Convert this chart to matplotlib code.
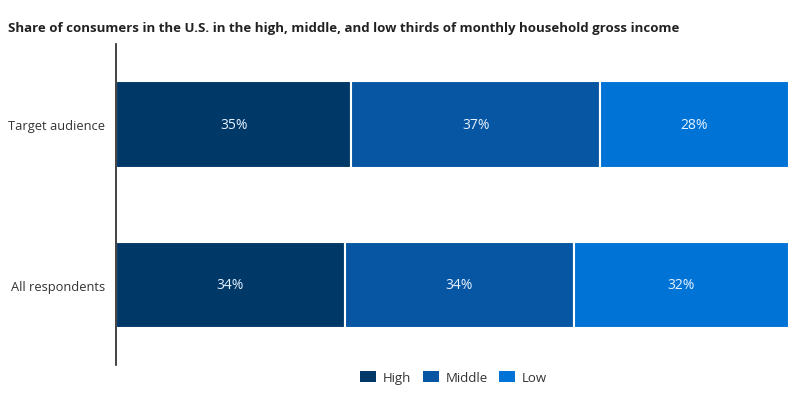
import matplotlib.pyplot as plt
from matplotlib.patches import Patch

plt.rcParams['font.family'] = ['Open Sans', 'DejaVu Sans']

# Dados
categorias = ['All respondents', 'Target audience']
high = [34, 35]
middle = [34, 37]
low = [32, 28]
series = ['High', 'Middle', 'Low']
cores = ['#003868', '#0756a3', '#0074d6']

fig = plt.figure(figsize=(8, 4.06), dpi=100)
ax = fig.add_axes([0.145, 0.098, 0.841, 0.791])

y = range(len(categorias))
left = [0] * len(categorias)
for nome, valores, cor in zip(series, [high, middle, low], cores):
    ax.barh(y, valores, left=left, height=0.54, color=cor,
            edgecolor='white', linewidth=1.5, label=nome)
    for yi, (l, v) in enumerate(zip(left, valores)):
        ax.text(l + v / 2, yi, f'{v}%', ha='center', va='center',
                color='#e6f2ff', fontsize=10)
    left = [l + v for l, v in zip(left, valores)]

ax.set_xlim(0, 100)
ax.set_ylim(-0.5, 1.5)
ax.set_yticks(list(y))
ax.set_yticklabels(categorias, fontsize=9.3, color='#333333')
ax.tick_params(axis='y', length=0, pad=8)
ax.set_xticks([])
for s in ['top', 'right', 'bottom']:
    ax.spines[s].set_visible(False)
ax.spines['left'].set_color('#222222')
ax.spines['left'].set_linewidth(1.2)

fig.text(0.01, 0.92, 'Share of consumers in the U.S. in the high, middle, and low thirds of monthly household gross income',
         fontsize=9.5, fontweight='bold', color='#222222')

handles = [Patch(facecolor=c, label=n) for n, c in zip(series, cores)]
fig.legend(handles=handles, loc='center', bbox_to_anchor=(0.567, 0.068), ncol=3,
           frameon=False, fontsize=9.5, handlelength=1.2, handleheight=1.0,
           handletextpad=0.5, columnspacing=0.9, labelcolor='#333333')

fig.savefig('out.png', dpi=100)
